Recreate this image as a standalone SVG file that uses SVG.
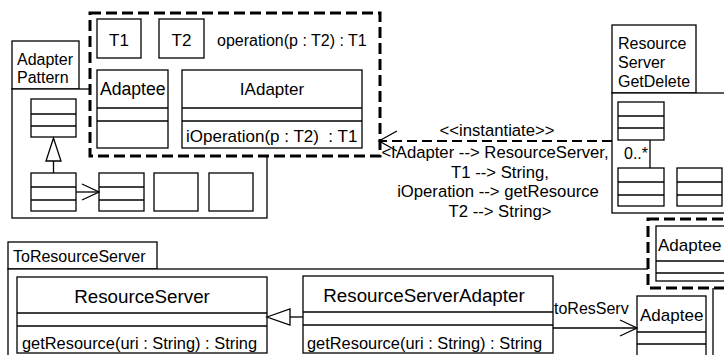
<svg xmlns="http://www.w3.org/2000/svg" width="724" height="355" viewBox="0 0 724 355">
<style>
.b{fill:#fff;stroke:#000;stroke-width:1.3}
.l{fill:none;stroke:#000;stroke-width:1.3}
.d{fill:#fff;stroke:#000;stroke-width:3;stroke-dasharray:11 5}
.dl{fill:none;stroke:#000;stroke-width:2.2;stroke-dasharray:10 5}
text{font-family:"Liberation Sans",Arial,sans-serif;font-size:16px;fill:#000}
.t{font-size:17px}
.lb{font-size:16.7px}
.big{font-size:18.8px}
.m{text-anchor:middle}
</style>
<rect width="724" height="355" fill="#fff"/>

<g id="pkg-adapter-pattern">
<rect class="b" x="12" y="41" width="67" height="48"/>
<text x="17" y="65">Adapter</text>
<text x="17" y="83">Pattern</text>
<rect class="b" x="12" y="89" width="255" height="129"/>
<g id="mini1"><rect class="b" x="31" y="99" width="45" height="38"/><line class="l" x1="31" y1="114" x2="76" y2="114"/><line class="l" x1="31" y1="126" x2="76" y2="126"/></g>
<g id="mini2"><rect class="b" x="31" y="173" width="45" height="38"/><line class="l" x1="31" y1="187" x2="76" y2="187"/><line class="l" x1="31" y1="200" x2="76" y2="200"/></g>
<g id="mini3"><rect class="b" x="99" y="173" width="45" height="38"/><line class="l" x1="99" y1="187" x2="144" y2="187"/><line class="l" x1="99" y1="200" x2="144" y2="200"/></g>
<rect id="mini4" class="b" x="154" y="173" width="44" height="38"/>
<rect id="mini5" class="b" x="209" y="173" width="44" height="38"/>
<g id="mini-connectors">
<line class="l" x1="53.5" y1="161" x2="53.5" y2="173"/>
<polygon class="b" points="53.5,138 46,161 61,161"/>
<line class="l" x1="76" y1="192" x2="99" y2="192"/>
<polyline class="l" points="82,184 99,192 82,200"/>
</g>
</g>

<g id="template-adapter">
<rect class="d" x="90" y="13" width="290" height="143"/>
<g id="T1"><rect class="b" x="97" y="19" width="44" height="39"/><text class="t m" x="119" y="46">T1</text></g>
<g id="T2"><rect class="b" x="159" y="19" width="45" height="39"/><text class="t m" x="181.5" y="46">T2</text></g>
<text x="217" y="46">operation(p : T2) : T1</text>
<g id="Adaptee-top"><rect class="b" x="97" y="70" width="71" height="78"/><line class="l" x1="97" y1="108" x2="168" y2="108"/><line class="l" x1="97" y1="121" x2="168" y2="121"/><text class="t" x="100" y="95" style="font-size:17.6px">Adaptee</text></g>
<g id="IAdapter"><rect class="b" x="182" y="70" width="180" height="78"/><line class="l" x1="182" y1="108" x2="362" y2="108"/><line class="l" x1="182" y1="121" x2="362" y2="121"/><text class="t m" x="272" y="95">IAdapter</text><text class="t" x="186" y="142" xml:space="preserve">iOperation(p : T2)  : T1</text></g>
</g>

<g id="pkg-resource-server-getdelete">
<rect class="b" x="612" y="25" width="84" height="68"/>
<text x="618" y="49">Resource</text>
<text x="618" y="68">Server</text>
<text x="618" y="87">GetDelete</text>
<rect class="b" x="612" y="93" width="130" height="120"/>
<g id="mini-a"><rect class="b" x="618" y="102" width="46" height="38"/><line class="l" x1="618" y1="116" x2="664" y2="116"/><line class="l" x1="618" y1="128" x2="664" y2="128"/></g>
<line class="l" x1="650" y1="140" x2="650" y2="168"/>
<text x="624" y="159">0..*</text>
<g id="mini-b"><rect class="b" x="618" y="168" width="46" height="38"/><line class="l" x1="618" y1="182" x2="664" y2="182"/><line class="l" x1="618" y1="195" x2="664" y2="195"/></g>
<g id="mini-c"><rect class="b" x="677" y="168" width="45" height="38"/><line class="l" x1="677" y1="182" x2="722" y2="182"/><line class="l" x1="677" y1="195" x2="722" y2="195"/></g>
</g>

<g id="pkg-to-resource-server">
<rect class="b" x="8" y="242" width="149" height="27"/>
<text x="13" y="262">ToResourceServer</text>
<rect class="b" x="8" y="269" width="705" height="110"/>
<g id="ResourceServer"><rect class="b" x="17" y="277" width="250" height="76"/><line class="l" x1="17" y1="313" x2="267" y2="313"/><line class="l" x1="17" y1="326" x2="267" y2="326"/><text class="big m" x="142" y="303">ResourceServer</text><text x="22" y="349" style="font-size:16.4px">getResource(uri : String) : String</text></g>
<g id="ResourceServerAdapter"><rect class="b" x="303" y="276" width="250" height="77"/><line class="l" x1="303" y1="312" x2="553" y2="312"/><line class="l" x1="303" y1="325" x2="553" y2="325"/><text class="big m" x="424" y="302">ResourceServerAdapter</text><text x="307" y="349" style="font-size:16.4px">getResource(uri : String) : String</text></g>
<g id="Adaptee-template"><rect class="d" x="648" y="219" width="100" height="69"/><rect class="b" x="656" y="226" width="90" height="55"/><line class="l" x1="656" y1="261" x2="746" y2="261"/><line class="l" x1="656" y1="273" x2="746" y2="273"/><text class="t" x="658" y="251">Adaptee</text></g>
<g id="Adaptee-bottom"><rect class="b" x="637" y="296" width="69" height="80"/><line class="l" x1="637" y1="332" x2="706" y2="332"/><line class="l" x1="637" y1="344" x2="706" y2="344"/><text class="t" x="640" y="321">Adaptee</text></g>
</g>

<g id="connectors">
<line class="dl" x1="612" y1="141" x2="380" y2="141"/>
<polyline class="l" points="397,131 379,141 397,151"/>
<text class="lb m" x="497" y="136">&lt;&lt;instantiate&gt;&gt;</text>
<text class="lb m" x="495" y="158">&lt;IAdapter --&gt; ResourceServer,</text>
<text class="lb m" x="500" y="178">T1 --&gt; String,</text>
<text class="lb m" x="498" y="197">iOperation --&gt; getResource</text>
<text class="lb m" x="500" y="217">T2 --&gt; String&gt;</text>
<line class="l" x1="290" y1="317" x2="303" y2="317"/>
<polygon class="b" points="267,317 290,309 290,325"/>
<line class="l" x1="553" y1="328" x2="637" y2="328"/>
<polyline class="l" points="620,320 637,328 620,336"/>
<text x="554" y="314">toResServ</text>
</g>
</svg>
